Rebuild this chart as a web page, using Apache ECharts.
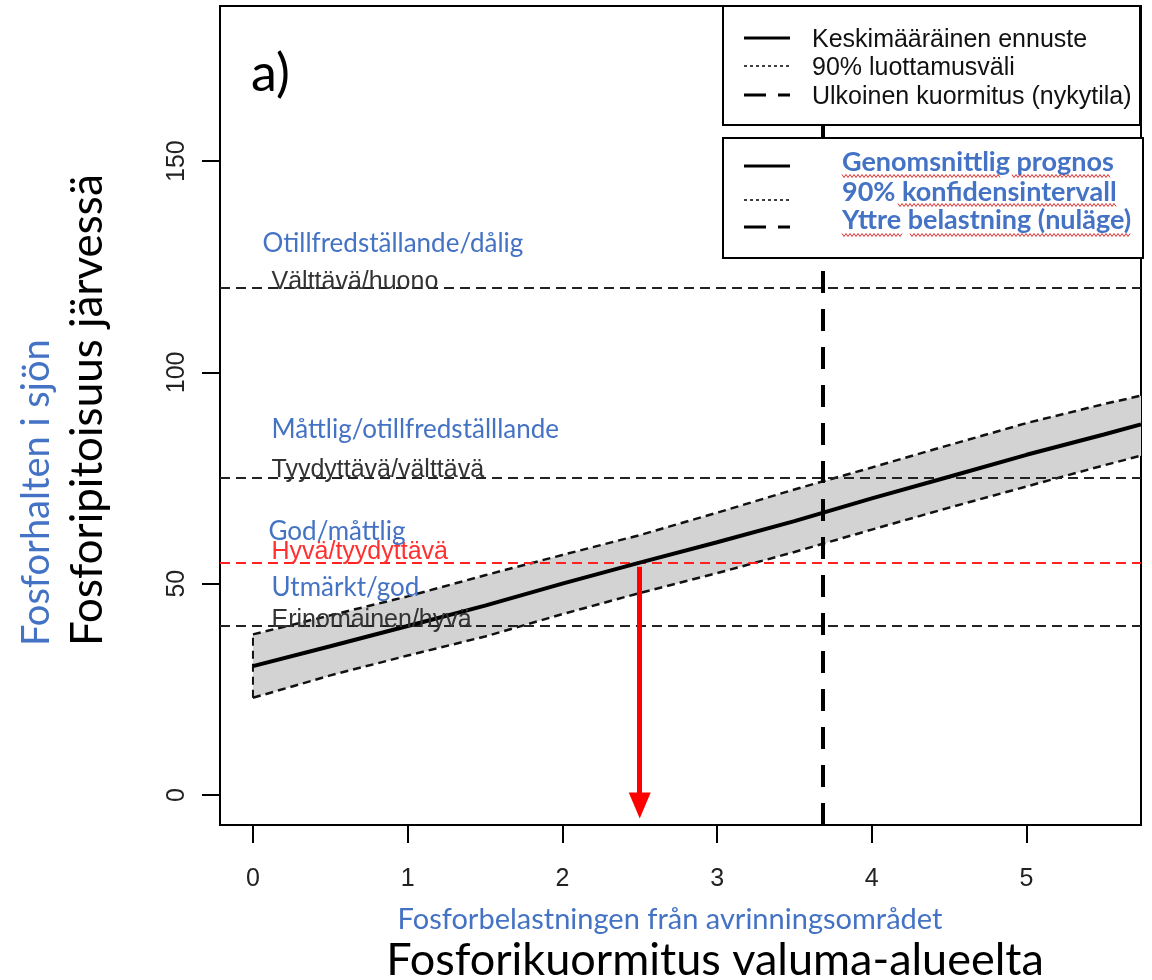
<!DOCTYPE html>
<html>
<head>
<meta charset="utf-8">
<script src="https://cdn.jsdelivr.net/npm/echarts@6/dist/echarts.min.js"></script>
<style>
  html, body { margin: 0; padding: 0; background: #fff; }
  #chart { width: 1152px; height: 980px; }
</style>
</head>
<body>
<div id="chart"></div>
<script>
// fosforikuormitus (x) ja ennuste (y)
const xLoad  = [0, 0.5, 1, 1.5, 2, 2.5, 3, 3.5, 4, 4.5, 5, 5.5, 5.74]
const meanP  = [30.5, 35.2, 40, 44.8, 50, 55, 59.8, 64.8, 70.2, 75.3, 80.5, 85.3, 87.7]
const upperP = [38, 42.5, 47, 52, 56.8, 61.5, 66.8, 72.3, 77.5, 82.8, 88, 92.5, 94.5]
const lowerP = [23, 28.3, 33, 37.5, 42.8, 47.8, 52.5, 57.5, 62.8, 68, 73, 78, 80.3]

const xTicks = [0, 1, 2, 3, 4, 5]
const yTicks = [0, 50, 100, 150]

// luokkarajat
const limitValues = [120, 75, 55, 40]
const fiNames = ['Välttävä/huono', 'Tyydyttävä/välttävä', 'Hyvä/tyydyttävä', 'Erinomainen/hyvä']
const svNames = ['Otillfredställande/dålig', 'Måttlig/otillfredställlande', 'God/måttlig', 'Utmärkt/god']
const labelX = 0.12

const currentLoad = 3.68
const arrowX = 2.5
const arrowFrom = 54
const arrowTo = -2.5

// tyylit
const BLUE = '#4472c4'
const fiDy = [-6, -8, -10, -6]
const svDy = [-44, -48, -31, -38]
const svDx = [-9, 0, -3, 0]
const fiColor = ['#333', '#333', '#ff3030', '#333']

const chart = echarts.init(document.getElementById('chart'))

const pairs = ys => xLoad.map((x, i) => [x, ys[i]])

const limitLines = limitValues.map(v => ({
  yAxis: v,
  lineStyle: v === 55
    ? { color: '#ff2020', width: 2, type: [10, 6] }
    : { color: '#222', width: 2, type: [10, 6] },
}))

const fiLabels = limitValues.map((v, i) => ({
  value: [labelX, v],
  label: { offset: [0, fiDy[i]], color: fiColor[i] },
}))
const svLabels = limitValues.map((v, i) => ({
  value: [labelX, v],
  label: { offset: [svDx[i], svDy[i]] },
}))

// kirjoitusvirheen aaltoviiva
function squiggle(x1, x2, y) {
  const pts = []
  for (let x = x1, k = 0; x <= x2; x += 2, k++) pts.push([x, y + (k % 2 ? 1.5 : -1.5)])
  return { type: 'polyline', z: 101, shape: { points: pts }, style: { stroke: '#e03030', lineWidth: 1, fill: null } }
}

chart.setOption({
  animation: false,
  grid: {
    left: 220, right: 11, top: 6, bottom: 155,
    show: true, borderColor: '#000', borderWidth: 2,
  },
  xAxis: {
    type: 'value',
    min: -0.213,
    max: 5.74,
    axisLine: { show: true, onZero: false, lineStyle: { color: '#000', width: 2 } },
    axisTick: { show: true, customValues: xTicks, length: 18, lineStyle: { color: '#000', width: 2 } },
    axisLabel: {
      customValues: xTicks, margin: 42, fontSize: 25, color: '#222',
      fontFamily: 'Liberation Sans',
    },
    splitLine: { show: false },
  },
  yAxis: {
    type: 'value',
    min: -7.1,
    max: 186.7,
    axisLine: { show: true, onZero: false, lineStyle: { color: '#000', width: 2 } },
    axisTick: { show: true, customValues: yTicks, length: 18, lineStyle: { color: '#000', width: 2 } },
    axisLabel: {
      customValues: yTicks, margin: 30, fontSize: 25, color: '#222', rotate: 90,
      fontFamily: 'Liberation Sans',
    },
    splitLine: { show: false },
  },
  series: [
    {
      // luottamusväli täyttö
      type: 'custom',
      z: 1,
      clip: true,
      data: [[0, 0]],
      renderItem: (params, api) => {
        const pts = []
        xLoad.forEach((x, i) => pts.push(api.coord([x, upperP[i]])))
        for (let i = xLoad.length - 1; i >= 0; i--) pts.push(api.coord([xLoad[i], lowerP[i]]))
        return { type: 'polygon', shape: { points: pts }, style: { fill: '#d3d3d3' } }
      },
    },
    {
      type: 'line', z: 3, data: pairs(upperP), symbol: 'none',
      lineStyle: { color: '#111', width: 2.5, type: [8, 5] },
    },
    {
      type: 'line', z: 3, data: pairs(lowerP), symbol: 'none',
      lineStyle: { color: '#111', width: 2.5, type: [8, 5] },
    },
    {
      type: 'line', z: 3, data: [[xLoad[0], lowerP[0]], [xLoad[0], upperP[0]]], symbol: 'none',
      lineStyle: { color: '#111', width: 2, type: [8, 5] },
    },
    {
      // luokkarajat + nykytila
      type: 'line', z: 4, data: [], symbol: 'none',
      markLine: {
        silent: true, symbol: 'none', label: { show: false },
        data: limitLines.concat([{
          xAxis: currentLoad,
          lineStyle: { color: '#000', width: 4, type: [22, 16] },
        }]),
      },
    },
    {
      type: 'line', z: 5, data: pairs(meanP), symbol: 'none',
      lineStyle: { color: '#000', width: 4 },
    },
    {
      // nuoli
      type: 'line', z: 6, data: [], symbol: 'none',
      markLine: {
        silent: true, label: { show: false },
        symbol: ['none', 'triangle'], symbolSize: [22, 26], symbolRotate: 180,
        lineStyle: { color: '#ff0000', width: 5, type: 'solid' },
        data: [[{ coord: [arrowX, arrowFrom] }, { coord: [arrowX, arrowTo] }]],
      },
    },
    {
      type: 'scatter', z: 7, symbolSize: 0, data: fiLabels,
      itemStyle: { opacity: 1 },
      label: {
        show: true, position: 'right', distance: 0,
        formatter: p => fiNames[p.dataIndex],
        fontSize: 25, fontFamily: 'Liberation Sans',
      },
    },
    {
      type: 'scatter', z: 7, symbolSize: 0, data: svLabels,
      itemStyle: { opacity: 1 },
      label: {
        show: true, position: 'right', distance: 0,
        formatter: p => svNames[p.dataIndex],
        fontSize: 26, fontFamily: 'Lato', color: BLUE,
      },
    },
  ],
  graphic: [
    { type: 'text', x: 251, y: 74, style: { text: 'a)', font: '52px Lato', fill: '#000', verticalAlign: 'middle' } },
    // selite 1
    { type: 'rect', z: 100, shape: { x: 723, y: 6, width: 417, height: 119 }, style: { fill: '#fff', stroke: '#000', lineWidth: 2 } },
    { type: 'line', z: 101, shape: { x1: 744, y1: 38, x2: 790, y2: 38 }, style: { stroke: '#000', lineWidth: 3 } },
    { type: 'line', z: 101, shape: { x1: 744, y1: 66, x2: 790, y2: 66 }, style: { stroke: '#000', lineWidth: 1.5, lineDash: [3, 3] } },
    { type: 'line', z: 101, shape: { x1: 744, y1: 95, x2: 790, y2: 95 }, style: { stroke: '#000', lineWidth: 3, lineDash: [22, 12] } },
    { type: 'text', z: 101, x: 812, y: 40, style: { text: 'Keskimääräinen ennuste', font: '25px "Liberation Sans"', fill: '#111', verticalAlign: 'middle' } },
    { type: 'text', z: 101, x: 812, y: 68, style: { text: '90% luottamusväli', font: '25px "Liberation Sans"', fill: '#111', verticalAlign: 'middle' } },
    { type: 'text', z: 101, x: 812, y: 97, style: { text: 'Ulkoinen kuormitus (nykytila)', font: '25px "Liberation Sans"', fill: '#111', verticalAlign: 'middle' } },
    // selite 2
    { type: 'rect', z: 100, shape: { x: 723, y: 138, width: 420, height: 120 }, style: { fill: '#fff', stroke: '#000', lineWidth: 2 } },
    { type: 'line', z: 101, shape: { x1: 744, y1: 166, x2: 790, y2: 166 }, style: { stroke: '#000', lineWidth: 3 } },
    { type: 'line', z: 101, shape: { x1: 744, y1: 200, x2: 790, y2: 200 }, style: { stroke: '#000', lineWidth: 1.5, lineDash: [3, 3] } },
    { type: 'line', z: 101, shape: { x1: 744, y1: 227, x2: 790, y2: 227 }, style: { stroke: '#000', lineWidth: 3, lineDash: [22, 12] } },
    { type: 'text', z: 101, x: 842, y: 162, style: { text: 'Genomsnittlig prognos', font: 'bold 27px Lato', fill: BLUE, verticalAlign: 'middle' } },
    { type: 'text', z: 101, x: 842, y: 192, style: { text: '90% konfidensintervall', font: 'bold 27px Lato', fill: BLUE, verticalAlign: 'middle' } },
    { type: 'text', z: 101, x: 842, y: 220, style: { text: 'Yttre belastning (nuläge)', font: 'bold 27px Lato', fill: BLUE, verticalAlign: 'middle' } },
    squiggle(842, 1000, 176), squiggle(1012, 1110, 176),
    squiggle(898, 1116, 205),
    squiggle(842, 902, 235), squiggle(910, 1130, 235),
    // akselien nimet
    { type: 'text', x: 37, y: 646, rotation: Math.PI / 2, style: { text: 'Fosforhalten i sjön', font: '38px Lato', fill: BLUE, align: 'left', verticalAlign: 'middle' } },
    { type: 'text', x: 88, y: 646, rotation: Math.PI / 2, style: { text: 'Fosforipitoisuus järvessä', font: '44px Lato', fill: '#000', align: 'left', verticalAlign: 'middle' } },
    { type: 'text', x: 670, y: 920, style: { text: 'Fosforbelastningen från avrinningsområdet', font: '29px Lato', fill: BLUE, align: 'center', verticalAlign: 'middle' } },
    { type: 'text', x: 715, y: 960, style: { text: 'Fosforikuormitus valuma-alueelta', font: '45px Lato', fill: '#000', align: 'center', verticalAlign: 'middle' } },
  ],
})
</script>
</body>
</html>
